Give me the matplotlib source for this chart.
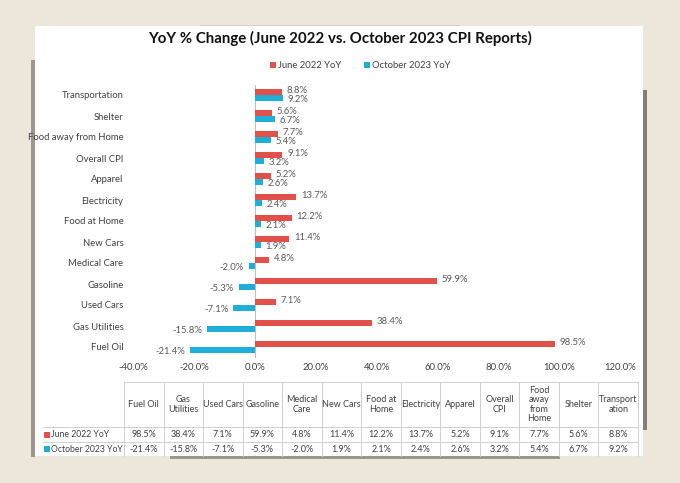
import matplotlib
matplotlib.use("Agg")
import matplotlib.pyplot as plt
from matplotlib.patches import Rectangle
import numpy as np

plt.rcParams['font.family'] = ['Lato', 'DejaVu Sans']

# ---- data ----
categories = ["Fuel Oil", "Gas Utilities", "Used Cars", "Gasoline", "Medical Care",
              "New Cars", "Food at Home", "Electricity", "Apparel", "Overall CPI",
              "Food away from Home", "Shelter", "Transportation"]
table_headers = ["Fuel Oil", "Gas\nUtilities", "Used Cars", "Gasoline", "Medical\nCare",
                 "New Cars", "Food at\nHome", "Electricity", "Apparel", "Overall\nCPI",
                 "Food\naway\nfrom\nHome", "Shelter", "Transport\nation"]
june_2022 = [98.5, 38.4, 7.1, 59.9, 4.8, 11.4, 12.2, 13.7, 5.2, 9.1, 7.7, 5.6, 8.8]
oct_2023 = [-21.4, -15.8, -7.1, -5.3, -2.0, 1.9, 2.1, 2.4, 2.6, 3.2, 5.4, 6.7, 9.2]
series_names = ["June 2022 YoY", "October 2023 YoY"]
x_ticks = [-40, -20, 0, 20, 40, 60, 80, 100, 120]

RED = '#E2504A'
BLUE = '#1FAED8'
TXT = '#404040'
GRID = '#D0D0D0'

W, H = 680, 483
fig = plt.figure(figsize=(W / 100, H / 100), dpi=100)
fig.patch.set_facecolor('#EDE6DA')

def fx(x):
    return x / W

def fy(y):
    return 1 - y / H

def rect(xa, ya, xb, yb, **kw):
    fig.patches.append(Rectangle((fx(xa), fy(yb)), fx(xb) - fx(xa), fy(ya) - fy(yb),
                                 transform=fig.transFigure, edgecolor='none', **kw))

# shadows (behind panel) and white panel
rect(31, 60, 35, 457, facecolor='#5a554d', alpha=0.55, zorder=-3)
rect(643, 90, 647, 430, facecolor='#4a4640', alpha=0.65, zorder=-3)
rect(170, 455, 560, 459, facecolor='#3a3630', alpha=0.45, zorder=-3)
rect(200, 25, 460, 27, facecolor='#3a3630', alpha=0.15, zorder=-3)
rect(35, 26, 643, 456, facecolor='white', zorder=-2)

# title
fig.text(fx(340), fy(38), "YoY % Change (June 2022 vs. October 2023 CPI Reports)",
         ha='center', va='center', fontsize=10.8, fontweight='bold', color='#111111')

# legend
leg_y = fy(65)
rect(270, 62, 276, 68, facecolor=RED, zorder=1)
fig.text(fx(278), leg_y, series_names[0], ha='left', va='center', fontsize=6.8, color=TXT)
rect(364, 62, 370, 68, facecolor=BLUE, zorder=1)
fig.text(fx(372), leg_y, series_names[1], ha='left', va='center', fontsize=6.8, color=TXT)

# chart axes
ax = fig.add_axes([fx(133), fy(357.5), (620 - 133) / W, (357.5 - 84.5) / H])
ax.set_facecolor('none')
y = np.arange(len(categories))
bh = 0.27
ax.barh(y + bh / 2, june_2022, height=bh, color=RED, zorder=2)
ax.barh(y - bh / 2, oct_2023, height=bh, color=BLUE, zorder=2)
ax.axvline(0, color='#BFBFBF', lw=0.8, zorder=1)
ax.set_xlim(-40, 120)
ax.set_ylim(-0.5, len(categories) - 0.5)
for s in ax.spines.values():
    s.set_visible(False)
ax.set_xticks(x_ticks)
ax.set_xticklabels([f"{v:.1f}%" for v in x_ticks], fontsize=6.8, color=TXT)
ax.set_yticks(y)
ax.set_yticklabels(categories, fontsize=6.8, color=TXT)
ax.tick_params(axis='both', length=0)
ax.tick_params(axis='x', pad=4)
ax.tick_params(axis='y', pad=7)

for i, v in enumerate(june_2022):
    ax.text(v + 1.5 if v >= 0 else v - 1.5, i + 0.2, f"{v:.1f}%",
            ha='left' if v >= 0 else 'right', va='center', fontsize=6.8, color='#595959')
for i, v in enumerate(oct_2023):
    ax.text(v + 1.5 if v >= 0 else v - 1.5, i - 0.22, f"{v:.1f}%",
            ha='left' if v >= 0 else 'right', va='center', fontsize=6.8, color='#595959')

# data table
x0 = 124.0
cw = (638.0 - 124.0) / len(categories)
y_top, y_h, y_r1, y_bot = 382.0, 427.0, 442.0, 456.0
x_end = x0 + cw * len(categories)

def hline(xa, xb, yy):
    fig.add_artist(plt.Line2D([fx(xa), fx(xb)], [fy(yy), fy(yy)], transform=fig.transFigure,
                              color=GRID, lw=0.7))

def vline(xx, ya, yb):
    fig.add_artist(plt.Line2D([fx(xx), fx(xx)], [fy(ya), fy(yb)], transform=fig.transFigure,
                              color=GRID, lw=0.7))

hline(x0, x_end, y_top)
hline(43, x_end, y_h)
hline(43, x_end, y_r1)
for k in range(len(categories) + 1):
    vline(x0 + k * cw, y_top, y_bot)

for k, (hdr, a, b) in enumerate(zip(table_headers, june_2022, oct_2023)):
    cx = x0 + (k + 0.5) * cw
    fig.text(fx(cx), fy((y_top + y_h) / 2), hdr, ha='center', va='center', fontsize=6.5,
             color=TXT, linespacing=1.05)
    fig.text(fx(cx), fy((y_h + y_r1) / 2), f"{a:.1f}%", ha='center', va='center',
             fontsize=6.5, color=TXT)
    fig.text(fx(cx), fy((y_r1 + y_bot) / 2), f"{b:.1f}%", ha='center', va='center',
             fontsize=6.5, color=TXT)

for name, col, (ya, yb) in zip(series_names, [RED, BLUE], [(y_h, y_r1), (y_r1, y_bot)]):
    ym = (ya + yb) / 2
    rect(44, ym - 3, 50, ym + 3, facecolor=col, zorder=1)
    fig.text(fx(51), fy(ym), name, ha='left', va='center', fontsize=6.2, color=TXT)

fig.savefig("out.png", dpi=100, facecolor=fig.get_facecolor())
